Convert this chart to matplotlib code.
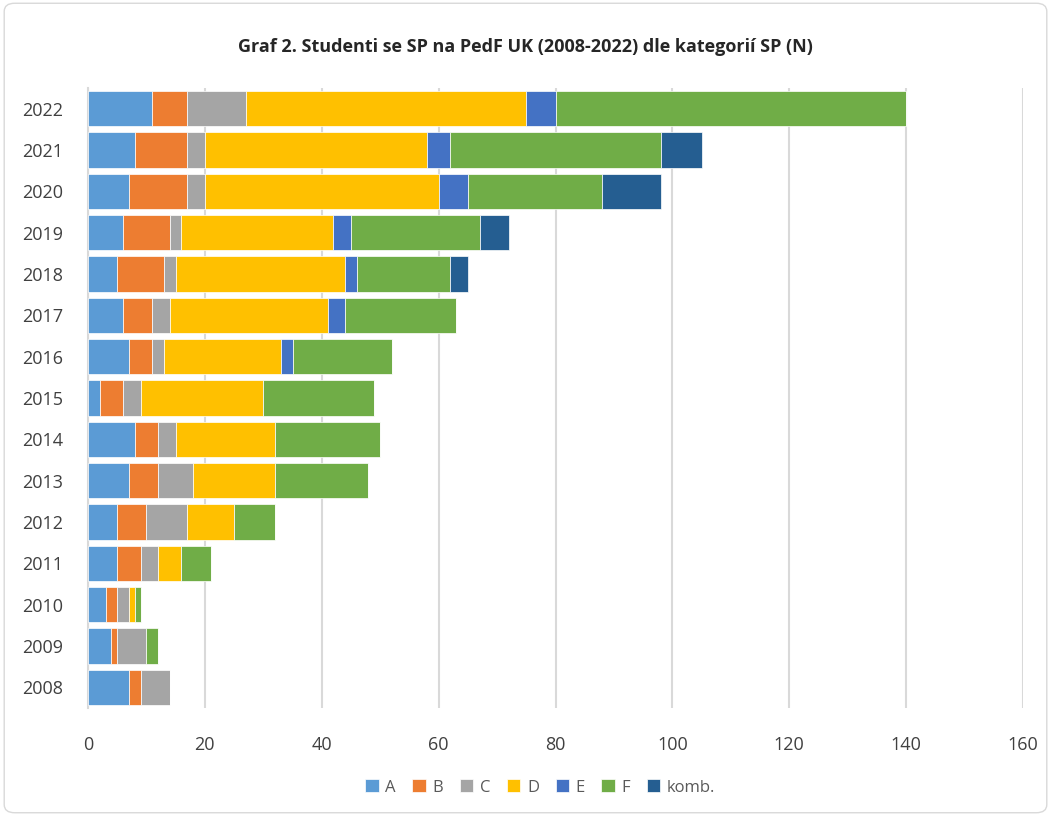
import matplotlib.pyplot as plt
import numpy as np
from matplotlib.patches import FancyBboxPatch

plt.rcParams['font.family'] = ['Open Sans', 'DejaVu Sans']

years = [str(y) for y in range(2008, 2023)]
A = [7, 4, 3, 5, 5, 7, 8, 2, 7, 6, 5, 6, 7, 8, 11]
B = [2, 1, 2, 4, 5, 5, 4, 4, 4, 5, 8, 8, 10, 9, 6]
C = [5, 5, 2, 3, 7, 6, 3, 3, 2, 3, 2, 2, 3, 3, 10]
D = [0, 0, 1, 4, 8, 14, 17, 21, 20, 27, 29, 26, 40, 38, 48]
E = [0, 0, 0, 0, 0, 0, 0, 0, 2, 3, 2, 3, 5, 4, 5]
F = [0, 2, 1, 5, 7, 16, 18, 19, 17, 19, 16, 22, 23, 36, 60]
komb = [0, 0, 0, 0, 0, 0, 0, 0, 0, 0, 3, 5, 10, 7, 0]

series = [("A", A, "#5B9BD5"), ("B", B, "#ED7D31"), ("C", C, "#A5A5A5"),
          ("D", D, "#FFC000"), ("E", E, "#4472C4"), ("F", F, "#70AD47"),
          ("komb.", komb, "#255E91")]

fig = plt.figure(figsize=(10.51, 8.16), dpi=100)
ax = fig.add_axes([0.0837, 0.1324, 0.8897, 0.7598])

y = np.arange(len(years))
left = np.zeros(len(years))
for name, vals, col in series:
    vals = np.array(vals, dtype=float)
    ax.barh(y, vals, left=left, height=0.85, color=col, label=name,
            edgecolor="white", linewidth=0.5, zorder=3)
    left += vals

ax.set_xlim(0, 160)
ax.set_ylim(-0.5, len(years) - 0.5)
ax.set_xticks(range(0, 161, 20))
ax.set_yticks(y)
ax.set_yticklabels(years)
ax.grid(axis="x", color="#D9D9D9", linewidth=1.5, zorder=0)
for s in ["top", "right", "bottom"]:
    ax.spines[s].set_visible(False)
ax.spines["left"].set_color("#D9D9D9")
ax.spines["left"].set_linewidth(1.5)
ax.tick_params(length=0, labelsize=13, labelcolor="#404040")
ax.tick_params(axis="y", pad=18)
ax.tick_params(axis="x", pad=20)

fig.text(0.5, 0.942, "Graf 2. Studenti se SP na PedF UK (2008-2022) dle kategorií SP (N)",
         ha="center", va="center", fontsize=13, fontweight="bold", color="#262626")

fig.legend(loc="center", bbox_to_anchor=(0.514, 0.035), ncol=7, frameon=False,
           fontsize=12, handlelength=0.8, handleheight=0.8, handletextpad=0.4,
           columnspacing=1.0, labelcolor="#595959")

fig.patches.append(FancyBboxPatch((0.004, 0.004), 0.992, 0.992,
                                  boxstyle="round,pad=0,rounding_size=0.01",
                                  transform=fig.transFigure, fill=False,
                                  edgecolor="#D9D9D9", linewidth=1))

fig.savefig("out.png", dpi=100)
